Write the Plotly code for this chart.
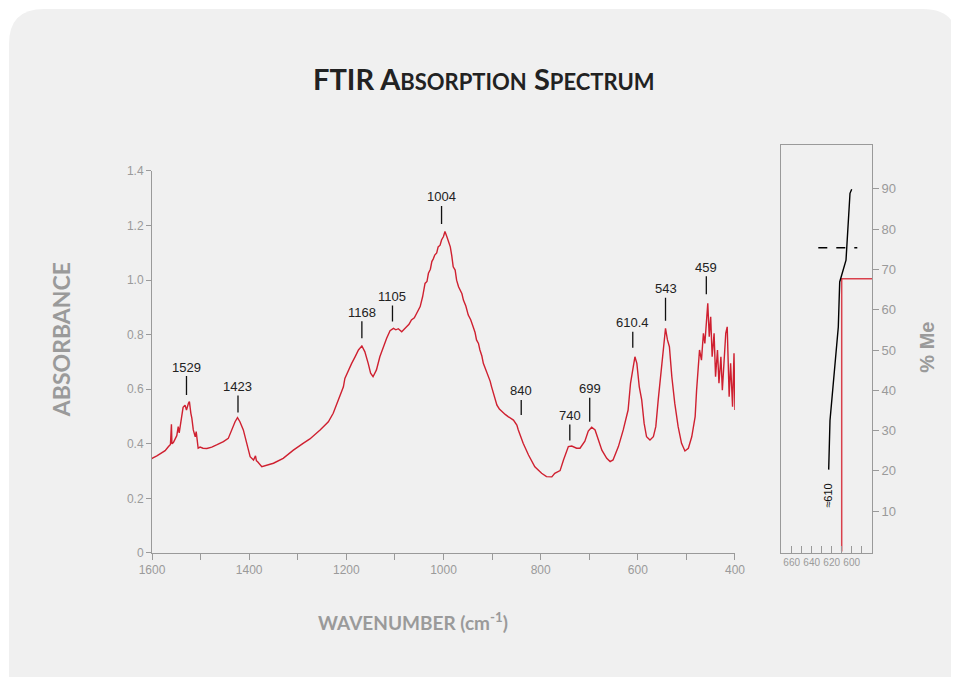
import plotly.graph_objects as go

# FTIR spectrum (wavenumber cm-1, absorbance)
wavenumber = [
    1600, 1598, 1590, 1583, 1573, 1566, 1562, 1560, 1559, 1556, 1553, 1549, 1546, 1544,
    1541, 1539, 1536, 1532, 1529, 1525, 1523, 1520, 1518, 1515, 1511, 1509, 1507, 1505,
    1501, 1495, 1487, 1477, 1467, 1453, 1443, 1436, 1429, 1424, 1419, 1412, 1405, 1402,
    1398, 1391, 1387, 1385, 1383, 1374, 1367, 1350, 1330, 1309, 1289, 1275, 1254, 1237,
    1227, 1220, 1213, 1206, 1203, 1196, 1189, 1182, 1175, 1168, 1162, 1155, 1150, 1145,
    1138, 1131, 1124, 1117, 1110, 1103, 1098, 1093, 1086, 1081, 1076, 1071, 1066, 1060,
    1055, 1048, 1043, 1038, 1034, 1031, 1027, 1024, 1021, 1018, 1014, 1011, 1007, 1004,
    1000, 997, 993, 990, 986, 983, 980, 976, 973, 969, 966, 962, 959, 954, 949, 944,
    939, 935, 932, 928, 925, 921, 918, 913, 908, 904, 901, 895, 890, 885, 880, 873,
    867, 856, 849, 846, 836, 825, 812, 798, 788, 777, 771, 760, 753, 743, 736, 726,
    719, 709, 702, 695, 688, 681, 674, 664, 657, 651, 640, 630, 620, 615, 609, 606,
    602, 597, 592, 587, 582, 575, 568, 563, 558, 553, 548, 543, 539, 535, 530, 524,
    517, 510, 503, 496, 489, 482, 479, 473, 469, 465, 462, 458, 456, 453, 450, 447,
    443, 440, 436, 433, 429, 426, 422, 419, 416, 412, 409, 405, 402, 400,
]
absorbance = [
    0.345, 0.349, 0.356, 0.363, 0.375, 0.390, 0.398, 0.472, 0.400, 0.405, 0.414, 0.430, 0.463, 0.440,
    0.475, 0.494, 0.534, 0.542, 0.524, 0.549, 0.555, 0.512, 0.494, 0.451, 0.426, 0.445, 0.400, 0.384,
    0.388, 0.384, 0.383, 0.388, 0.396, 0.408, 0.420, 0.451, 0.481, 0.496, 0.481, 0.451, 0.402, 0.377,
    0.353, 0.341, 0.356, 0.338, 0.335, 0.316, 0.319, 0.329, 0.347, 0.377, 0.402, 0.418, 0.451, 0.481,
    0.512, 0.542, 0.573, 0.609, 0.640, 0.671, 0.695, 0.719, 0.744, 0.759, 0.738, 0.695, 0.659, 0.646,
    0.671, 0.719, 0.756, 0.787, 0.815, 0.823, 0.818, 0.822, 0.811, 0.822, 0.829, 0.838, 0.854, 0.862,
    0.878, 0.903, 0.939, 0.988, 0.995, 1.025, 1.040, 1.068, 1.078, 1.092, 1.100, 1.122, 1.128, 1.147,
    1.160, 1.178, 1.159, 1.141, 1.122, 1.090, 1.049, 1.037, 1.000, 0.976, 0.964, 0.950, 0.927, 0.905, 0.872, 0.855,
    0.829, 0.808, 0.781, 0.768, 0.744, 0.722, 0.695, 0.672, 0.646, 0.630, 0.609, 0.575, 0.542, 0.528, 0.518, 0.508,
    0.500, 0.487, 0.469, 0.451, 0.402, 0.359, 0.316, 0.292, 0.280, 0.279, 0.292, 0.302, 0.341, 0.390, 0.392, 0.384,
    0.384, 0.410, 0.447, 0.461, 0.451, 0.414, 0.377, 0.347, 0.335, 0.341, 0.390, 0.451, 0.524, 0.622, 0.695, 0.719,
    0.695, 0.609, 0.561, 0.475, 0.426, 0.414, 0.426, 0.463, 0.561, 0.646, 0.756, 0.823, 0.781, 0.756, 0.646, 0.549,
    0.463, 0.402, 0.374, 0.384, 0.426, 0.500, 0.597, 0.744, 0.707, 0.805, 0.768, 0.891, 0.915, 0.793, 0.866, 0.719,
    0.805, 0.646, 0.744, 0.622, 0.719, 0.597, 0.707, 0.805, 0.829, 0.573, 0.695, 0.536, 0.732, 0.524,
]

# peak labels
peak_text = ["1529", "1423", "1168", "1105", "1004", "840", "740", "699", "610.4", "543", "459"]
peak_wn = [1529, 1423, 1168, 1105, 1004, 840, 740, 699, 610.4, 543, 459]
peak_abs = [0.579, 0.515, 0.787, 0.848, 1.206, 0.506, 0.412, 0.481, 0.752, 0.851, 0.948]
peak_stem = [28, 26, 26, 25, 27, 24, 25, 33, 25, 32, 27]

# inset: band position vs % Me
me_wn = [623, 621.7, 613.4, 612, 605.7, 604.4, 601.7, 600]
me_pct = [20.3, 32.5, 55.7, 66.9, 72.3, 78.9, 88.9, 89.9]
dash_wn = [633.4, 594.4]
dash_pct = [75.4, 75.4]
cut_wn = 610
cut_pct = 67.7
inset_range = [670.7, 579.7]

GREY = "#9a9a9a"
RED = "#cf2030"
TITLE_FONT = "Lato, 'Open Sans', sans-serif"
TICK_FONT = "'Liberation Sans', Arial, sans-serif"

fig = go.Figure()

fig.add_trace(go.Scatter(
    x=wavenumber, y=absorbance, mode="lines",
    line=dict(color=RED, width=1.4),
    xaxis="x", yaxis="y", showlegend=False, hoverinfo="skip",
))

fig.add_trace(go.Scatter(
    x=[cut_wn, cut_wn, inset_range[1]], y=[0, cut_pct, cut_pct], mode="lines",
    line=dict(color="#d9404c", width=1.5),
    xaxis="x2", yaxis="y2", showlegend=False, hoverinfo="skip",
))
fig.add_trace(go.Scatter(
    x=me_wn, y=me_pct, mode="lines",
    line=dict(color="black", width=1.4),
    xaxis="x2", yaxis="y2", showlegend=False, hoverinfo="skip",
))
fig.add_trace(go.Scatter(
    x=dash_wn, y=dash_pct, mode="lines",
    line=dict(color="black", width=1.4, dash="dash"),
    xaxis="x2", yaxis="y2", showlegend=False, hoverinfo="skip",
))

annotations = []
for txt, x, y, stem in zip(peak_text, peak_wn, peak_abs, peak_stem):
    annotations.append(dict(
        x=x, y=y, xref="x", yref="y", text=txt,
        showarrow=True, arrowhead=0, arrowwidth=1.3, arrowcolor="#111",
        ax=0, ay=-stem, font=dict(family=TICK_FONT, size=13, color="#222"),
    ))

annotations.append(dict(
    x=623.4, y=13.9, xref="x2", yref="y2", text="≈610", textangle=-90,
    showarrow=False, font=dict(family=TICK_FONT, size=11, color="#111"),
))

centered = dict(xref="paper", yref="paper", showarrow=False,
                xanchor="center", yanchor="middle")
annotations += [
    dict(x=0.4611, y=1.162, **centered,
         text="<b>FTIR A<span style='font-size:22px'>BSORPTION</span> "
              "S<span style='font-size:22px'>PECTRUM</span></b>",
         font=dict(family=TITLE_FONT, size=29, color="#222")),
    dict(x=-0.127, y=0.523, **centered,
         text="<b>ABSORBANCE</b>", textangle=-90,
         font=dict(family=TITLE_FONT, size=23, color=GREY)),
    dict(x=0.3625, y=-0.169, **centered,
         text="<b>WAVENUMBER (cm<sup>-1</sup>)</b>",
         font=dict(family=TITLE_FONT, size=19, color=GREY)),
    dict(x=1.076, y=0.505, **centered,
         text="<b>% Me</b>", textangle=-90,
         font=dict(family=TICK_FONT, size=20, color=GREY)),
]

# grey card with rounded top corners behind everything
x0, x1, y0, y1 = -0.1986, 1.1194, -0.34, 1.3333
rx, ry = 0.0486, 0.0858
card = (f"M {x0},{y0} L {x0},{y1 - ry} Q {x0},{y1} {x0 + rx},{y1} "
        f"L {x1 - rx},{y1} Q {x1},{y1} {x1},{y1 - ry} L {x1},{y0} Z")

axis_common = dict(showgrid=False, zeroline=False, showline=True,
                   linecolor=GREY, linewidth=1, tickcolor=GREY)

fig.update_layout(
    width=959, height=677,
    margin=dict(l=144, r=95, t=137, b=132),
    paper_bgcolor="white", plot_bgcolor="white",
    shapes=[dict(type="path", path=card, xref="paper", yref="paper",
                 fillcolor="#f0f0f0", line=dict(width=0), layer="below")],
    annotations=annotations,
    xaxis=dict(domain=[0, 0.8097], range=[1600, 400], anchor="y",
               tickmode="linear", tick0=400, dtick=200,
               ticks="outside", ticklen=6,
               minor=dict(tick0=400, dtick=100, ticks="outside", ticklen=6, tickcolor=GREY),
               tickfont=dict(family=TICK_FONT, size=12, color=GREY), **axis_common),
    yaxis=dict(domain=[0, 0.9363], range=[0, 1.4], anchor="x",
               tickvals=[0, 0.2, 0.4, 0.6, 0.8, 1.0, 1.2, 1.4],
               ticktext=["0", "0.2", "0.4", "0.6", "0.8", "1.0", "1.2", "1.4"],
               ticks="outside", ticklen=5,
               tickfont=dict(family=TICK_FONT, size=12, color=GREY), **axis_common),
    xaxis2=dict(domain=[0.8736, 1], range=inset_range, anchor="y2",
                tickvals=[660, 640, 620, 600],
                ticks="inside", ticklen=7, mirror=True,
                minor=dict(tick0=590, dtick=10, ticks="inside", ticklen=7, tickcolor=GREY),
                tickfont=dict(family=TICK_FONT, size=10, color=GREY), **axis_common),
    yaxis2=dict(domain=[0, 1], range=[-0.4, 100.9], anchor="x2", side="right",
                tickvals=[10, 20, 30, 40, 50, 60, 70, 80, 90],
                ticks="outside", ticklen=6, mirror=True,
                tickfont=dict(family=TICK_FONT, size=13, color=GREY), **axis_common),
)

fig.write_html("out.html")
